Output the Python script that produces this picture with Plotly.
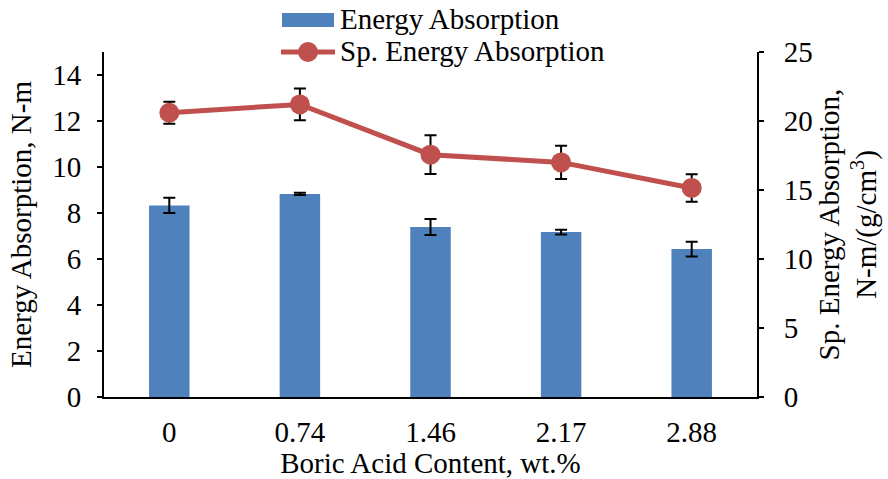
import plotly.graph_objects as go

categories = ["0", "0.74", "1.46", "2.17", "2.88"]
energy = [8.33, 8.83, 7.39, 7.17, 6.43]
energy_err = [0.33, 0.05, 0.35, 0.10, 0.32]
sp_energy = [20.6, 21.2, 17.56, 17.0, 15.15]
sp_energy_err = [0.8, 1.15, 1.4, 1.2, 1.0]

FONT = "Liberation Serif, Times New Roman, serif"
BLUE = "#4F81BD"
RED = "#C0504D"
FS = 29

W, H = 888, 479
L, R, T, B = 104, 131, 52, 82
PW, PH = W - L - R, H - T - B


def px(x):
    return (x - L) / PW


def py(y):
    return (H - B - y) / PH


fig = go.Figure()
fig.add_trace(go.Bar(
    x=categories, y=energy, name="Energy Absorption",
    marker=dict(color=BLUE, line=dict(width=0)),
    error_y=dict(type="data", array=energy_err, color="black", thickness=2, width=6),
    yaxis="y", showlegend=False,
))
fig.add_trace(go.Scatter(
    x=categories, y=sp_energy, name="Sp. Energy Absorption",
    mode="lines+markers",
    line=dict(color=RED, width=5),
    marker=dict(color=RED, size=20),
    error_y=dict(type="data", array=sp_energy_err, color="black", thickness=2, width=6),
    yaxis="y2", showlegend=False,
))

# manual legend (swatches + text)
shapes = [
    dict(type="rect", xref="paper", yref="paper",
         x0=px(282), x1=px(334), y0=py(27), y1=py(13),
         fillcolor=BLUE, line=dict(width=0)),
    dict(type="line", xref="paper", yref="paper",
         x0=px(281), x1=px(335), y0=py(52), y1=py(52),
         line=dict(color=RED, width=5)),
    dict(type="circle", xref="paper", yref="paper",
         x0=px(298), x1=px(318), y0=py(62), y1=py(42),
         fillcolor=RED, line=dict(width=0)),
]
annotations = [
    dict(text="Energy Absorption", xref="paper", yref="paper",
         x=px(338), y=py(19), xanchor="left", yanchor="middle",
         showarrow=False, font=dict(family=FONT, size=FS, color="black")),
    dict(text="Sp. Energy Absorption", xref="paper", yref="paper",
         x=px(338), y=py(51), xanchor="left", yanchor="middle",
         showarrow=False, font=dict(family=FONT, size=FS, color="black")),
]

fig.update_layout(
    width=W, height=H,
    margin=dict(l=L, r=R, t=T, b=B),
    plot_bgcolor="white", paper_bgcolor="white",
    font=dict(family=FONT, size=FS, color="black"),
    bargap=0.69,
    showlegend=False,
    shapes=shapes,
    annotations=annotations,
    xaxis=dict(
        type="category",
        title=dict(text="Boric Acid Content, wt.%", font=dict(size=FS), standoff=3),
        showline=True, linecolor="black", linewidth=2,
        ticks="", tickfont=dict(size=FS), showgrid=False,
        ticklabelstandoff=8, automargin=False,
    ),
    yaxis=dict(
        range=[0, 15], tickvals=[0, 2, 4, 6, 8, 10, 12, 14],
        title=dict(text="Energy Absorption, N-m", font=dict(size=FS), standoff=12),
        showline=True, linecolor="black", linewidth=2,
        ticks="outside", ticklen=5, tickcolor="black", tickwidth=2,
        tickfont=dict(size=FS), showgrid=False, zeroline=False,
        ticklabelstandoff=10, automargin=False,
    ),
    yaxis2=dict(
        range=[0, 25], tickvals=[0, 5, 10, 15, 20, 25],
        overlaying="y", side="right",
        title=dict(text="Sp. Energy Absorption,<br>N-m/(g/cm<sup>3</sup>)", font=dict(size=FS), standoff=4),
        showline=True, linecolor="black", linewidth=2,
        ticks="outside", ticklen=5, tickcolor="black", tickwidth=2,
        tickfont=dict(size=FS), showgrid=False, zeroline=False,
        ticklabelstandoff=14, automargin=False,
    ),
)

fig.write_html("out.html")
